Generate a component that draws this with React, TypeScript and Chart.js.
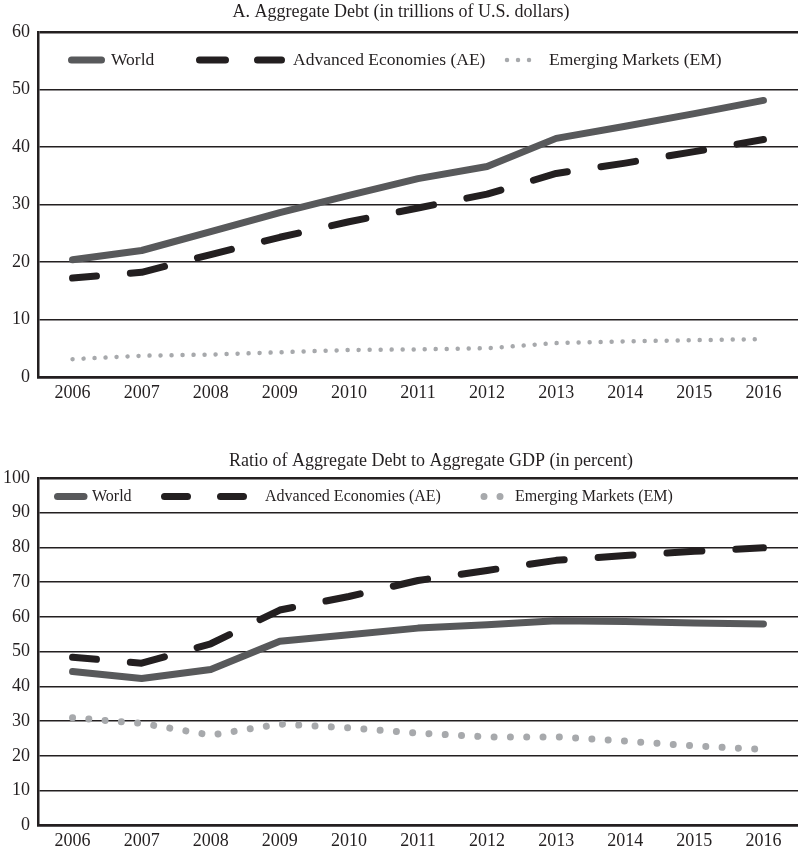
import { useEffect, useRef } from "react"
import { Chart, registerables } from "chart.js"

Chart.register(...registerables)

const INK = "#231f20"
const WORLD_GREY = "#58595b"
const EM_GREY = "#a7a9ac"
const SERIF = "'Liberation Serif', 'DejaVu Serif', serif"

const years = ["2006", "2007", "2008", "2009", "2010", "2011", "2012", "2013", "2014", "2015", "2016"]

// Panel A: trillions of U.S. dollars
const debtWorld = [20.4, 22.0, 25.3, 28.6, 31.6, 34.5, 36.6, 41.5, 43.6, 45.8, 48.1]
const debtAE = [17.2, 18.2, 21.3, 24.3, 27.0, 29.4, 31.8, 35.4, 37.2, 39.2, 41.3]
const debtEM = [3.1, 3.7, 3.9, 4.3, 4.7, 4.8, 5.0, 5.9, 6.2, 6.4, 6.6]

// Panel B: percent of aggregate GDP
const ratioWorld = [44.3, 42.3, 44.9, 53.0, 54.9, 56.8, 57.8, 58.9, 58.7, 58.3, 58.0]
const ratioAE = [48.4, 46.7, 52.3, 62.0, 65.9, 70.5, 73.4, 76.3, 77.7, 78.9, 79.9]
const ratioEM = [31.0, 29.4, 26.0, 29.2, 28.1, 26.6, 25.5, 25.5, 24.3, 22.9, 21.9]

const seriesLabels = ["World", "Advanced Economies (AE)", "Emerging Markets (EM)"]

type LegendItem = { x0: number; x1: number; tx: number; dash?: number[] }

// legend drawn inside the plot area, like the original figure
const insideLegend = {
  id: "insideLegend",
  afterDraw(chart: any, _args: any, opts: any) {
    const { ctx } = chart
    ctx.save()
    opts.items.forEach((item: LegendItem, i: number) => {
      const ds = chart.data.datasets[i]
      ctx.beginPath()
      ctx.lineWidth = ds.borderWidth
      ctx.strokeStyle = ds.borderColor
      ctx.lineCap = "round"
      ctx.setLineDash(item.dash ?? [])
      ctx.moveTo(item.x0, opts.y)
      ctx.lineTo(item.x1, opts.y)
      ctx.stroke()
      ctx.setLineDash([])
      ctx.fillStyle = INK
      ctx.font = `${opts.fontSize}px ${SERIF}`
      ctx.textBaseline = "middle"
      ctx.textAlign = "left"
      ctx.fillText(ds.label, item.tx, opts.y)
    })
    ctx.restore()
  },
}

// panel heading; the original's headings are not centred on the canvas
const panelTitle = {
  id: "panelTitle",
  afterDraw(chart: any, _args: any, opts: any) {
    const { ctx } = chart
    ctx.save()
    ctx.fillStyle = INK
    ctx.font = `18px ${SERIF}`
    ctx.textAlign = "center"
    ctx.textBaseline = "middle"
    ctx.fillText(opts.text, opts.x, opts.y)
    ctx.restore()
  },
}

type PanelProps = {
  title: string
  titleX: number
  titleY: number
  height: number
  top: number
  max: number
  world: number[]
  ae: number[]
  em: number[]
  emWidth: number
  emGap: number
  axisHeight: number
  legendY: number
  legendFont: number
  legendItems: LegendItem[]
}

function Panel(p: PanelProps) {
  const chartRef = useRef<HTMLCanvasElement>(null)
  const chartInstance = useRef<Chart | null>(null)

  useEffect(() => {
    if (!chartRef.current) return
    if (chartInstance.current) chartInstance.current.destroy()
    const ctx = chartRef.current.getContext("2d")
    if (!ctx) return

    chartInstance.current = new Chart(ctx, {
      type: "line",
      data: {
        labels: years,
        datasets: [
          {
            label: seriesLabels[0],
            data: p.world,
            borderColor: WORLD_GREY,
            borderWidth: 7,
            borderCapStyle: "round",
            borderJoinStyle: "round",
            pointRadius: 0,
            tension: 0,
          },
          {
            label: seriesLabels[1],
            data: p.ae,
            borderColor: INK,
            borderWidth: 7,
            borderDash: [35, 34],
            borderDashOffset: 11,
            borderCapStyle: "round",
            borderJoinStyle: "round",
            pointRadius: 0,
            tension: 0,
          },
          {
            label: seriesLabels[2],
            data: p.em,
            borderColor: EM_GREY,
            borderWidth: p.emWidth,
            borderDash: [0.01, p.emGap],
            borderCapStyle: "round",
            pointRadius: 0,
            tension: 0,
          },
        ],
      },
      options: {
        animation: false,
        responsive: true,
        maintainAspectRatio: false,
        layout: { padding: { top: p.top } },
        plugins: {
          legend: { display: false },
          tooltip: { enabled: false },
          title: { display: false },
          panelTitle: { text: p.title, x: p.titleX, y: p.titleY },
          insideLegend: { y: p.legendY, fontSize: p.legendFont, items: p.legendItems },
        } as any,
        scales: {
          x: {
            offset: true,
            grid: { display: false, drawTicks: false },
            border: { display: true, color: INK, width: 2.5 },
            ticks: {
              color: INK,
              font: { family: SERIF, size: 18 },
              padding: 5,
              maxRotation: 0,
              autoSkip: false,
            },
            afterFit: (scale) => {
              scale.height = p.axisHeight
            },
          },
          y: {
            min: 0,
            max: p.max,
            grid: {
              color: INK,
              drawTicks: false,
              lineWidth: (c) => (c.tick && (c.tick.value === p.max || c.tick.value === 0) ? 2.6 : 1.6),
            },
            border: { display: true, color: INK, width: 2.5 },
            ticks: {
              stepSize: 10,
              color: INK,
              font: { family: SERIF, size: 18 },
              padding: 8,
            },
            afterFit: (scale) => {
              scale.width = 38
            },
          },
        },
      },
      plugins: [panelTitle, insideLegend],
    })

    return () => {
      if (chartInstance.current) {
        chartInstance.current.destroy()
        chartInstance.current = null
      }
    }
  }, [])

  return (
    <div style={{ position: "relative", width: 798, height: p.height }}>
      <canvas ref={chartRef} />
    </div>
  )
}

export default function App() {
  return (
    <div style={{ position: "absolute", left: 0, top: 0, width: 798, background: "#fff" }}>
      <Panel
        title="A. Aggregate Debt (in trillions of U.S. dollars)"
        titleX={401}
        titleY={12}
        height={415}
        top={32}
        max={60}
        world={debtWorld}
        ae={debtAE}
        em={debtEM}
        emWidth={4.5}
        emGap={11}
        axisHeight={38}
        legendY={60}
        legendFont={17.5}
        legendItems={[
          { x0: 71.5, x1: 101.5, tx: 111 },
          { x0: 199.5, x1: 281.5, tx: 293, dash: [26, 32] },
          { x0: 507, x1: 531, tx: 549, dash: [0.01, 11] },
        ]}
      />
      <Panel
        title="Ratio of Aggregate Debt to Aggregate GDP (in percent)"
        titleX={431}
        titleY={46}
        height={436}
        top={63}
        max={100}
        world={ratioWorld}
        ae={ratioAE}
        em={ratioEM}
        emWidth={7}
        emGap={16.3}
        axisHeight={25.5}
        legendY={81.5}
        legendFont={16}
        legendItems={[
          { x0: 57.5, x1: 84, tx: 92 },
          { x0: 164.5, x1: 246.5, tx: 265, dash: [23, 33] },
          { x0: 484, x1: 500.5, tx: 515, dash: [0.01, 16] },
        ]}
      />
    </div>
  )
}
